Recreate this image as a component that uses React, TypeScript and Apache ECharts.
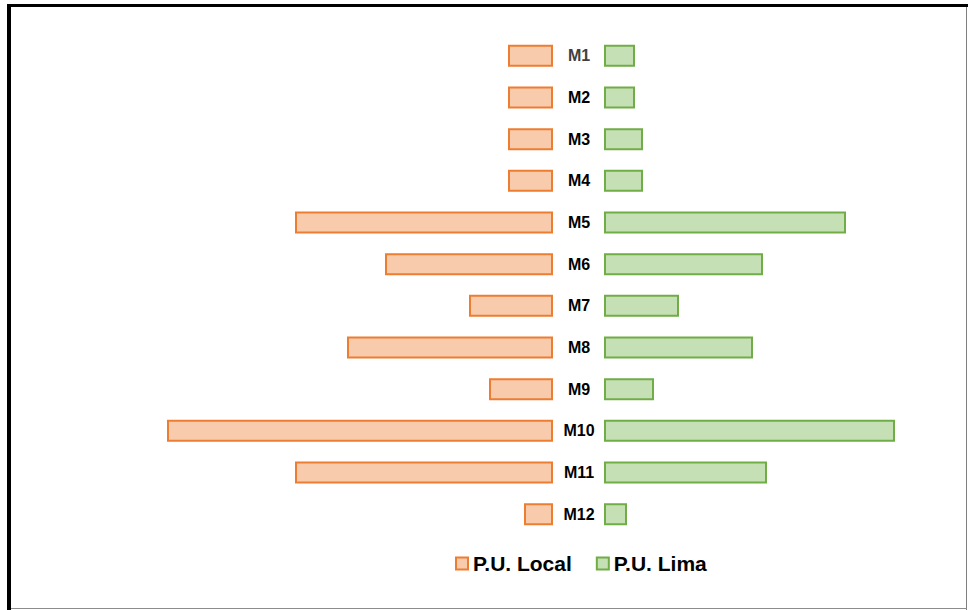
import React, { useEffect, useRef } from "react";
import * as echarts from "echarts";

const categories = ["M1", "M2", "M3", "M4", "M5", "M6", "M7", "M8", "M9", "M10", "M11", "M12"];
const localValues = [45, 45, 45, 45, 258, 168, 84, 206, 64, 386, 258, 29];
const limaValues = [31, 31, 39, 39, 242, 159, 75, 149, 50, 291, 163, 23];
const seriesNames = ["P.U. Local", "P.U. Lima"];

export default function App() {
  const ref = useRef<HTMLDivElement>(null);
  useEffect(() => {
    if (!ref.current) return;
    const chart = echarts.init(ref.current, null, { renderer: "svg" });
    const gridTop = 35;
    const gridHeight = 500;
    chart.setOption({
      animation: false,
      backgroundColor: "#ffffff",
      textStyle: { fontFamily: "Liberation Sans, Arial, sans-serif" },
      grid: [
        { left: 153, top: gridTop, width: 400, height: gridHeight },
        { left: 604, top: gridTop, width: 364, height: gridHeight },
      ],
      xAxis: [
        { gridIndex: 0, type: "value", min: 0, max: 400, inverse: true, show: false },
        { gridIndex: 1, type: "value", min: 0, max: 364, show: false },
      ],
      yAxis: [
        {
          gridIndex: 0, type: "category", data: categories, inverse: true,
          axisLine: { show: false }, axisTick: { show: false }, axisLabel: { show: false },
        },
        {
          gridIndex: 1, type: "category", data: categories, inverse: true,
          axisLine: { show: false }, axisTick: { show: false },
          axisLabel: {
            show: true, margin: 25, align: "center",
            fontSize: 16, fontWeight: "bold",
            fontFamily: "Liberation Sans, Arial, sans-serif",
            color: (v: string, i: number) => (i === 0 ? "#404040" : "#000000"),
          },
        },
      ],
      legend: {
        left: 450, top: 548,
        itemWidth: 12, itemHeight: 12, itemGap: 24,
        icon: "rect",
        textStyle: { fontSize: 21, fontWeight: "bold", color: "#000", fontFamily: "Liberation Sans, Arial, sans-serif" },
        data: seriesNames,
      },
      series: [
        {
          name: seriesNames[0], type: "bar", xAxisIndex: 0, yAxisIndex: 0,
          data: localValues, barWidth: 22,
          itemStyle: { color: "#F8CBAD", borderColor: "#ED7D31", borderWidth: 2 },
        },
        {
          name: seriesNames[1], type: "bar", xAxisIndex: 1, yAxisIndex: 1,
          data: limaValues, barWidth: 22,
          itemStyle: { color: "#C5E0B4", borderColor: "#70AD47", borderWidth: 2 },
        },
      ],
      graphic: [
        { type: "rect", shape: { x: 7, y: 4, width: 961, height: 3 }, style: { fill: "#000" }, silent: true },
        { type: "rect", shape: { x: 7, y: 4, width: 4, height: 606 }, style: { fill: "#000" }, silent: true },
        { type: "rect", shape: { x: 966, y: 7, width: 1, height: 603 }, style: { fill: "#7f7f7f" }, silent: true },
        { type: "rect", shape: { x: 11, y: 608, width: 956, height: 1 }, style: { fill: "#8c8c8c" }, silent: true },
      ],
    });
    return () => chart.dispose();
  }, []);
  return <div ref={ref} style={{ position: "fixed", left: 0, top: 0, width: 968, height: 610 }} />;
}
